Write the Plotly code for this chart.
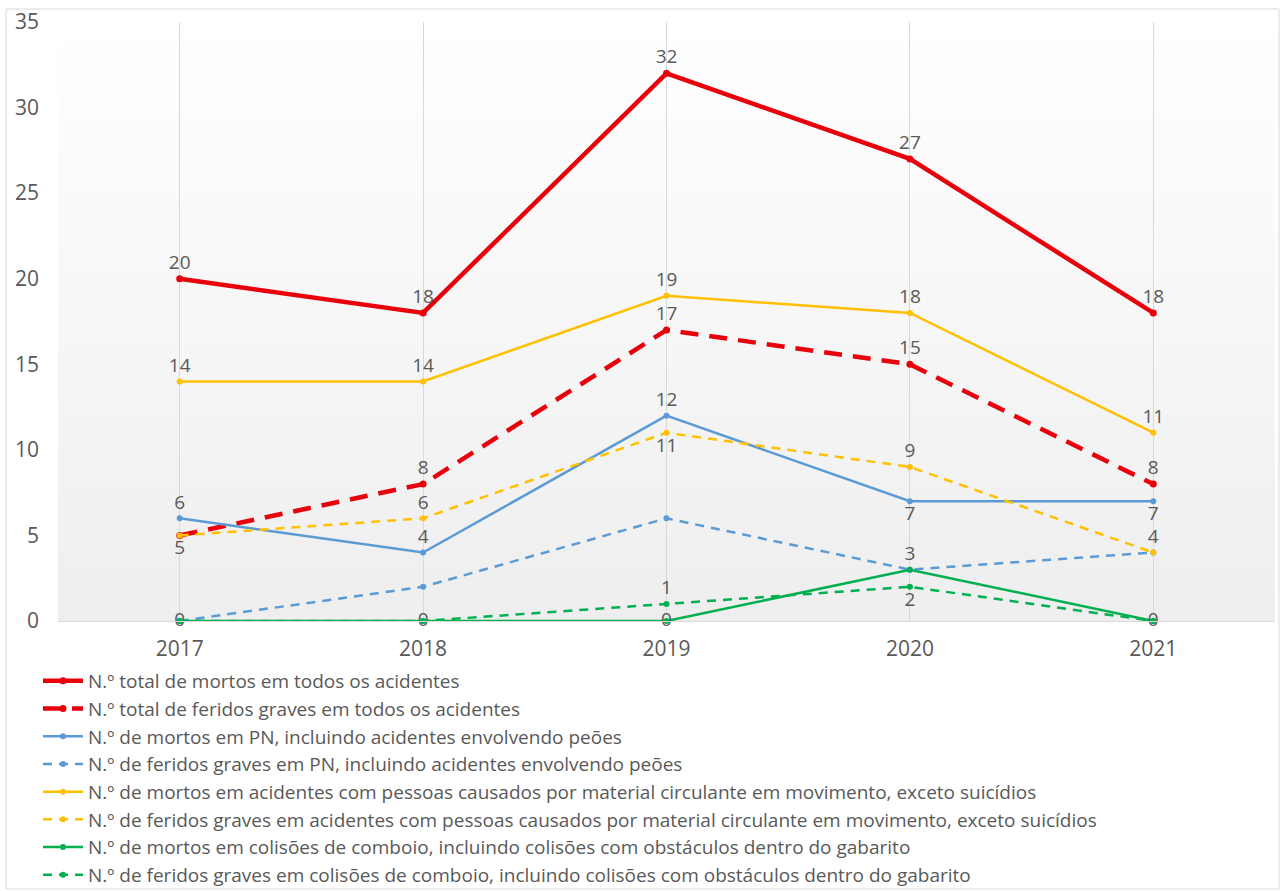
import base64
import plotly.graph_objects as go

# ---- data -------------------------------------------------------------
years = ["2017", "2018", "2019", "2020", "2021"]

mortos_total = [20, 18, 32, 27, 18]
feridos_total = [5, 8, 17, 15, 8]
mortos_pn = [6, 4, 12, 7, 7]
feridos_pn = [0, 2, 6, 3, 4]
mortos_material = [14, 14, 19, 18, 11]
feridos_material = [5, 6, 11, 9, 4]
mortos_colisoes = [0, 0, 0, 3, 0]
feridos_colisoes = [0, 0, 1, 2, 0]

nomes = [
    "N.º total de mortos em todos os acidentes",
    "N.º total de feridos graves em todos os acidentes",
    "N.º de mortos em PN, incluindo acidentes envolvendo peões",
    "N.º de feridos graves em PN, incluindo acidentes envolvendo peões",
    "N.º de mortos em acidentes com pessoas causados por material circulante em movimento, exceto suicídios",
    "N.º de feridos graves em acidentes com pessoas causados por material circulante em movimento, exceto suicídios",
    "N.º de mortos em colisões de comboio, incluindo colisões com obstáculos dentro do gabarito",
    "N.º de feridos graves em colisões de comboio, incluindo colisões com obstáculos dentro do gabarito",
]

# ---- styling ----------------------------------------------------------
RED, BLUE, YELLOW, GREEN = "#E8000B", "#5B9BD5", "#FFC000", "#00B050"
TXT = "#595959"
GRID = "#D9D9D9"
FONT = "Open Sans"
FS_TICK = 21     # axis tick labels
FS_LAB = 19      # value labels
FS_LEG = 19      # legend entries

W, H = 1281, 891
L, R, T, B = 58, 6, 22, 270
PW, PH = W - L - R, H - T - B


def px_x(p):
    return (p - L) / PW


def px_y(p):
    return (H - B - p) / PH


def show(vals, pos):
    return [str(v) if p else "" for v, p in zip(vals, pos)]


series = [
    # values, colour, width, dash, marker size, label flags, label positions
    (mortos_total, RED, 4.5, "solid", 7,
     [1, 1, 1, 1, 1], ["top center"] * 5),
    (feridos_total, RED, 4.5, "18px,11px", 7,
     [0, 1, 1, 1, 1], ["top center"] * 5),
    (mortos_pn, BLUE, 2.5, "solid", 6,
     [1, 1, 1, 1, 1], ["top center", "top center", "top center",
                       "bottom center", "bottom center"]),
    (feridos_pn, BLUE, 2.5, "9px,7px", 6,
     [0, 0, 0, 0, 0], ["top center"] * 5),
    (mortos_material, YELLOW, 2.5, "solid", 6,
     [1, 1, 1, 1, 1], ["top center"] * 5),
    (feridos_material, YELLOW, 2.5, "9px,7px", 6,
     [1, 1, 1, 1, 1], ["bottom center", "top center", "bottom center",
                       "top center", "top center"]),
    (mortos_colisoes, GREEN, 2.5, "solid", 6,
     [1, 1, 1, 1, 1], ["middle center", "middle center", "middle center",
                       "top center", "middle center"]),
    (feridos_colisoes, GREEN, 2.5, "9px,7px", 6,
     [0, 0, 1, 1, 0], ["top center", "top center", "top center",
                       "bottom center", "bottom center"]),
]

fig = go.Figure()

for name, (vals, col, lw, dash, ms, flags, pos) in zip(nomes, series):
    fig.add_trace(go.Scatter(
        x=years, y=vals, name=name,
        mode="lines+markers+text",
        line=dict(color=col, width=lw, dash=dash),
        marker=dict(color=col, size=ms, symbol="circle"),
        text=show(vals, flags),
        textposition=pos,
        textfont=dict(family=FONT, size=FS_LAB, color=TXT),
        cliponaxis=False,
        hoverinfo="x+y+name",
    ))

# vertical white-to-grey gradient behind the plotting area
svg = (
    '<svg xmlns="http://www.w3.org/2000/svg" width="100" height="100" '
    'preserveAspectRatio="none">'
    '<defs><linearGradient id="g" x1="0" y1="0" x2="0" y2="1">'
    '<stop offset="0" stop-color="#FFFFFF"/>'
    '<stop offset="1" stop-color="#EEEEEE"/>'
    '</linearGradient></defs>'
    '<rect width="100" height="100" fill="url(#g)"/></svg>'
)
svg_uri = "data:image/svg+xml;base64," + base64.b64encode(svg.encode()).decode()

fig.update_layout(
    width=W, height=H,
    margin=dict(l=L, r=R, t=T, b=B, autoexpand=False),
    paper_bgcolor="white",
    plot_bgcolor="rgba(0,0,0,0)",
    font=dict(family=FONT, size=FS_TICK, color=TXT),
    showlegend=True,
    legend=dict(
        x=px_x(38), y=px_y(662), xanchor="left", yanchor="top",
        bgcolor="rgba(0,0,0,0)", borderwidth=0,
        font=dict(family=FONT, size=FS_LEG, color=TXT),
        itemwidth=40, tracegroupgap=0, traceorder="normal",
    ),
    images=[dict(
        source=svg_uri, xref="paper", yref="paper",
        x=0, y=1, sizex=1, sizey=1, sizing="stretch",
        xanchor="left", yanchor="top", layer="below",
    )],
    shapes=[dict(
        type="rect", xref="paper", yref="paper",
        x0=px_x(6), x1=px_x(1279), y0=px_y(889), y1=px_y(9),
        line=dict(color=GRID, width=1), fillcolor="rgba(0,0,0,0)",
        layer="below",
    )],
)

fig.update_xaxes(
    type="category", range=[-0.5, 4.5],
    showgrid=True, gridcolor=GRID, gridwidth=1,
    showline=True, linecolor=GRID, linewidth=1,
    zeroline=False, ticks="", ticklabelstandoff=9,
    tickfont=dict(family=FONT, size=FS_TICK, color=TXT),
)
fig.update_yaxes(
    range=[0, 35], dtick=5, tick0=0,
    showgrid=False, zeroline=False, showline=False,
    ticks="", ticklabelstandoff=18,
    tickfont=dict(family=FONT, size=FS_TICK, color=TXT),
)

fig.write_html("out.html")
